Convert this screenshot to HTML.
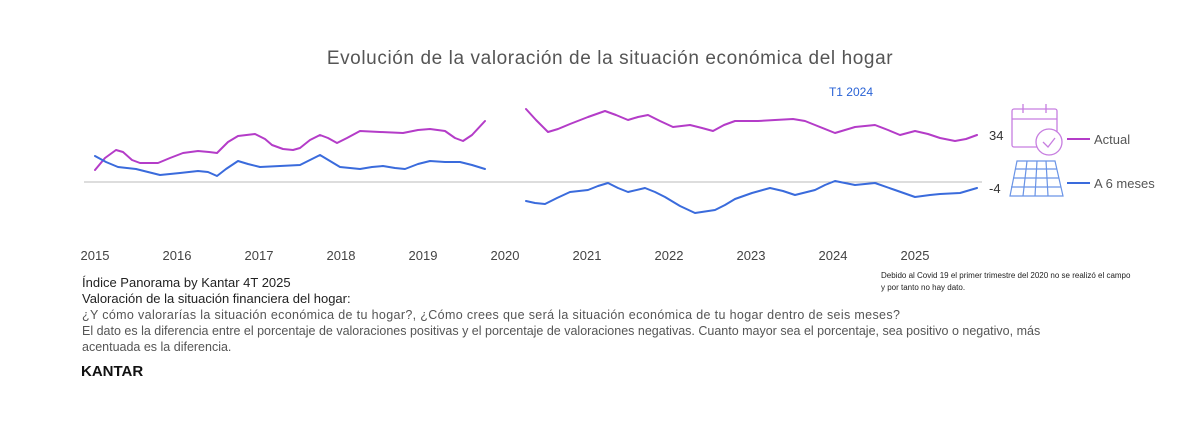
<!DOCTYPE html>
<html><head><meta charset="utf-8"><style>
body{margin:0;background:#fff;width:1200px;height:424px;overflow:hidden;font-family:"Liberation Sans",sans-serif;}
svg{position:absolute;left:0;top:0}
</style></head><body>
<svg width="1200" height="424" xmlns="http://www.w3.org/2000/svg" font-family="Liberation Sans, sans-serif">
<text x="610" y="64" text-anchor="middle" font-size="19" letter-spacing="0.6" fill="#555">Evolución de la valoración de la situación económica del hogar</text>
<text x="851" y="96" text-anchor="middle" font-size="12" fill="#2a63d6">T1 2024</text>
<line x1="84" y1="182" x2="982" y2="182" stroke="#bbb" stroke-width="1"/>
<g fill="none" stroke-width="2" stroke-linejoin="round" stroke-linecap="round">
<polyline stroke="#b43cc8" points="95,170 105,158 116,150 123,152 132,160 140,163 158,163 170,158 183,153 198,151 209,152 217,153 228,142 238,136 255,134 265,139 272,145 283,149 293,150 300,148 310,140 320,135 328,138 337,143 347,138 360,131 380,132 403,133 418,130 430,129 445,131 455,138 463,141 472,135 485,121"/>
<polyline stroke="#3a6bdc" points="95,156 106,162 118,167 136,169 148,172 160,175 180,173 198,171 208,172 217,176 226,169 238,161 248,164 260,167 280,166 300,165 310,160 320,155 330,161 340,167 360,169 372,167 383,166 395,168 405,169 418,164 430,161 445,162 460,162 472,165 485,169"/>
<polyline stroke="#b43cc8" points="526,109 536,120 548,132 558,129 570,124 588,117 605,111 616,115 628,120 638,117 648,115 660,121 673,127 690,125 702,128 713,131 724,125 735,121 758,121 775,120 793,119 805,121 815,125 835,133 845,130 855,127 875,125 888,130 900,135 915,131 928,134 940,138 955,141 966,139 977,135"/>
<polyline stroke="#3a6bdc" points="526,201 535,203 545,204 557,198 570,192 588,190 598,186 608,183 618,188 628,192 645,188 655,192 665,197 680,206 695,213 715,210 725,205 735,199 752,193 770,188 783,191 795,195 815,190 825,185 835,181 845,183 855,185 875,183 895,190 915,197 930,195 940,194 960,193 977,188"/>
</g>
<text x="989" y="140" font-size="13" fill="#333">34</text>
<text x="989" y="193" font-size="13" fill="#333">-4</text>
<g fill="none" stroke="#c77ee0" stroke-width="1.3">
<rect x="1012" y="109" width="45" height="38" rx="2"/>
<line x1="1012" y1="119" x2="1057" y2="119"/>
<line x1="1023" y1="104" x2="1023" y2="113"/><line x1="1046" y1="104" x2="1046" y2="113"/>
<circle cx="1049" cy="142" r="13" fill="#fff"/>
<polyline points="1043,142 1048,147 1055,138"/>
</g>
<line x1="1067" y1="139" x2="1090" y2="139" stroke="#b43cc8" stroke-width="2"/>
<text x="1094" y="144" font-size="13" fill="#555">Actual</text>
<g fill="none" stroke="#6a94e6" stroke-width="1.2">
<polygon points="1017,161 1055,161 1063,196 1010,196"/>
<line x1="1015" y1="169" x2="1057" y2="169"/><line x1="1013" y1="178" x2="1059" y2="178"/><line x1="1011" y1="187" x2="1061" y2="187"/>
<line x1="1027" y1="161" x2="1023" y2="196"/><line x1="1037" y1="161" x2="1035" y2="196"/><line x1="1046" y1="161" x2="1048" y2="196"/>
</g>
<line x1="1067" y1="183" x2="1090" y2="183" stroke="#3a6bdc" stroke-width="2"/>
<text x="1094" y="188" font-size="13" fill="#555">A 6 meses</text>
<g font-size="13" fill="#444" text-anchor="middle">
<text x="95" y="260">2015</text><text x="177" y="260">2016</text><text x="259" y="260">2017</text><text x="341" y="260">2018</text><text x="423" y="260">2019</text><text x="505" y="260">2020</text><text x="587" y="260">2021</text><text x="669" y="260">2022</text><text x="751" y="260">2023</text><text x="833" y="260">2024</text><text x="915" y="260">2025</text>
</g>
<text x="881" y="278" font-size="8" fill="#222">Debido al Covid 19 el primer trimestre del 2020 no se realizó el campo</text>
<text x="881" y="290" font-size="8" fill="#222">y por tanto no hay dato.</text>
<text x="82" y="287" font-size="13" fill="#222">Índice Panorama by Kantar 4T 2025</text>
<text x="82" y="303" font-size="13" fill="#222">Valoración de la situación financiera del hogar:</text>
<text x="82" y="319" font-size="12.5" fill="#555" letter-spacing="0.35">¿Y cómo valorarías la situación económica de tu hogar?, ¿Cómo crees que será la situación económica de tu hogar dentro de seis meses?</text>
<text x="82" y="335" font-size="12.5" fill="#555">El dato es la diferencia entre el porcentaje de valoraciones positivas y el porcentaje de valoraciones negativas. Cuanto mayor sea el porcentaje, sea positivo o negativo, más</text>
<text x="82" y="351" font-size="12.5" fill="#555">acentuada es la diferencia.</text>
<text x="81" y="376" font-size="15" font-weight="bold" fill="#111">KANTAR</text>
</svg>
</body></html>
